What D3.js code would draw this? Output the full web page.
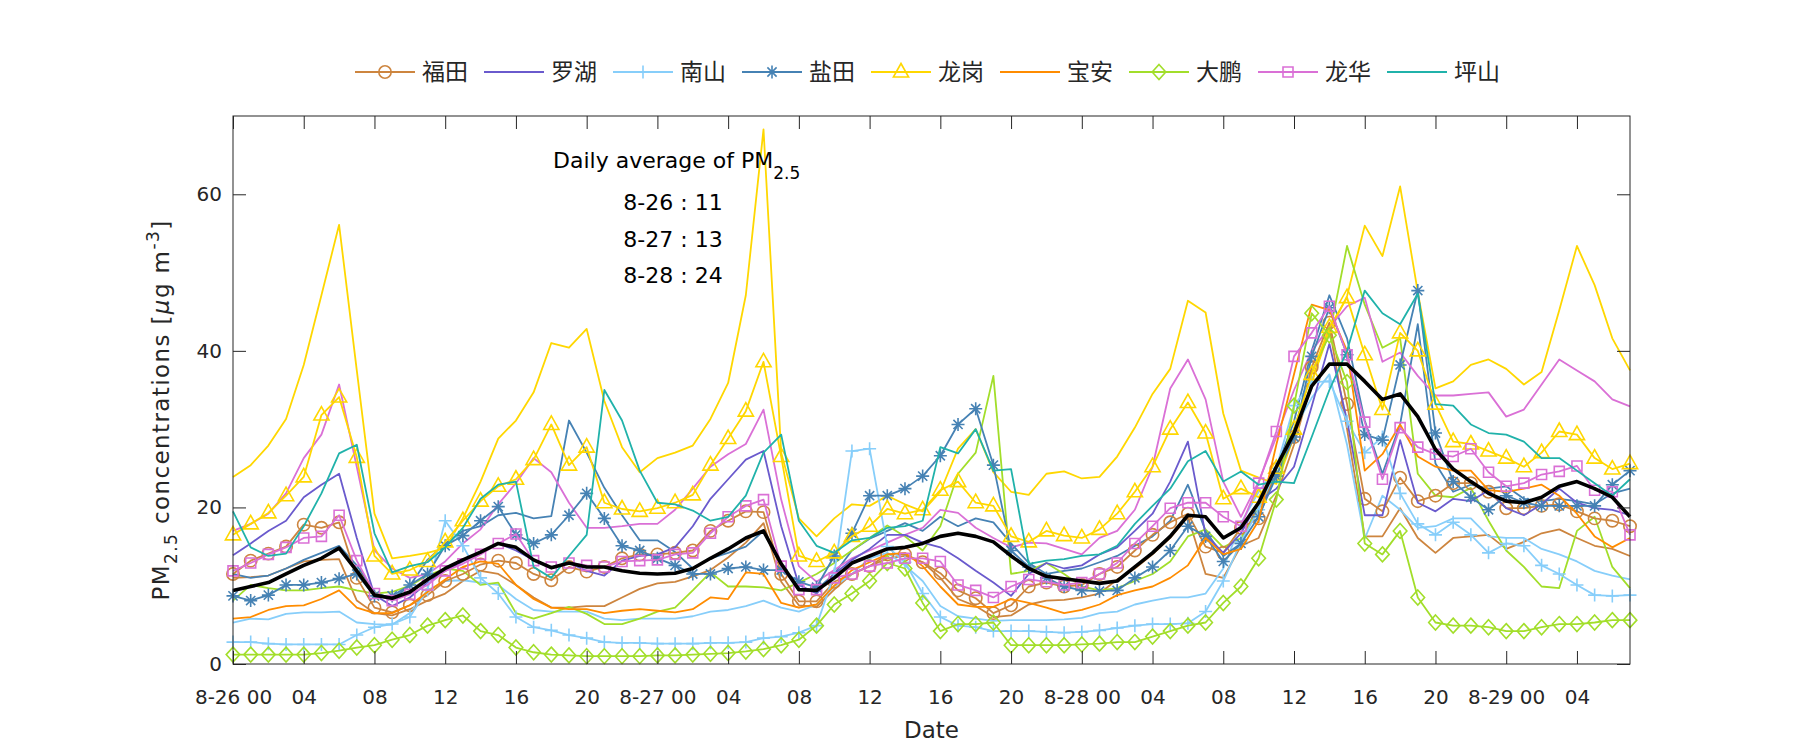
<!DOCTYPE html>
<html><head><meta charset="utf-8">
<script src="https://cdn.jsdelivr.net/npm/d3@7"></script>
<style>
body{margin:0;background:#fff;}
svg{display:block;font-family:"DejaVu Sans",sans-serif;}
</style></head><body>
<svg id="chart" width="1800" height="750"></svg>
<script>
// ---------- data ----------
const hours = d3.range(0, 80);
const tickHours = [0,4,8,12,16,20,24,28,32,36,40,44,48,52,56,60,64,68,72,76];
const tickLabels = ["8-26 00","04","08","12","16","20","8-27 00","04","08","12","16","20","8-28 00","04","08","12","16","20","8-29 00","04"];
const yTicks = [0,20,40,60];
const stationNames = ["福田","罗湖","南山","盐田","龙岗","宝安","大鹏","龙华","坪山"];
const stationColors = ["#CD853F","#6A5ACD","#87CEFA","#4682B4","#FFD700","#FF8C00","#A2DE2A","#DA70D6","#20B2AA"];
const stationMarkers = ["circle","none","plus","star","triangle","none","diamond","square","none"];
const dailyAverages = ["8-26 : 11","8-27 : 13","8-28 : 24"];

const futian1 = [11.5,13.2,14.1,15.0,17.8,17.4,18.1,11.0,7.2,6.6,
 7.5,8.8,10.6,11.5,12.7,13.2,12.9,11.5,10.7,12.4,
 11.8,12.4,13.5,14.0,14.0,14.2,14.5,17.0,18.3,19.5,
 19.4,11.5,8.0,8.0,10.5,11.5,12.5,14.0,14.0,13.0,
 11.6,9.4,8.4,6.5,7.5,9.9,10.4,9.9,10.1,11.5,
 12.4,14.5,16.5,18.1,19.2,15.0,14.2,17.4,18.6,24.9,
 29.0,37.9,43.6,33.2,21.1,19.5,23.8,20.8,21.5,23.1,
 23.1,22.0,19.9,19.9,20.2,20.4,19.5,18.6,18.3,17.6];
const futian2 = [11.0,11.1,11.3,12.2,13.1,13.3,13.4,8.1,6.5,6.2,
 7.0,8.1,9.0,10.6,11.9,11.5,10.1,8.5,7.2,7.2,
 7.4,7.4,8.5,9.6,10.3,10.5,11.2,12.0,13.6,15.5,
 18.0,10.5,7.5,7.3,9.5,11.5,12.5,13.5,13.8,13.0,
 11.0,8.3,7.4,6.0,6.2,7.6,8.1,8.2,8.5,9.0,
 10.8,12.2,14.0,16.1,18.8,11.5,11.0,15.1,16.1,21.5,
 28.0,36.0,43.0,30.0,16.3,16.3,19.9,16.1,14.2,16.1,
 16.3,16.5,14.7,15.6,16.7,17.2,16.1,15.1,14.7,13.8];
const luohu = [13.9,15.4,17.0,18.3,21.3,22.9,24.3,16.1,8.8,7.4,
 8.5,10.4,11.9,13.1,14.3,15.4,14.5,13.3,12.2,12.9,
 11.9,11.3,13.2,13.8,14.0,14.9,17.6,21.1,23.6,26.1,
 27.2,17.6,10.1,9.0,11.5,13.3,14.7,16.5,16.5,15.5,
 14.9,13.5,11.9,10.4,8.7,11.5,12.9,12.2,12.6,14.0,
 14.9,17.0,19.2,23.3,28.4,16.5,14.2,16.7,20.8,22.4,
 25.2,32.9,40.9,31.1,19.0,19.0,28.6,20.6,19.5,21.1,
 20.8,22.2,19.9,19.0,20.4,22.4,20.6,19.9,19.7,19.0];
const nanshan1 = [2.8,2.8,2.6,2.5,2.5,2.5,2.5,3.7,4.7,5.1,
 6.0,9.5,18.3,15.1,11.0,9.0,6.0,4.7,4.3,3.7,
 3.3,2.8,2.7,2.7,2.6,2.6,2.6,2.7,2.7,2.8,
 3.3,3.5,4.0,4.9,11.5,27.2,27.5,15.0,13.0,9.0,
 6.0,4.9,4.7,4.2,4.2,4.2,4.1,4.0,4.1,4.3,
 4.6,4.9,5.1,5.1,5.2,6.7,10.6,15.6,19.7,25.0,
 33.0,36.0,36.1,31.0,27.0,29.0,21.8,17.9,16.5,18.1,
 16.5,14.2,15.4,15.1,12.6,11.5,10.1,8.8,8.7,8.8];
const nanshan2 = [5.3,5.8,5.7,6.4,6.6,6.6,6.7,5.3,5.1,5.0,
 6.5,9.4,10.6,10.7,10.4,10.1,8.3,6.9,6.7,6.7,
 6.7,5.8,5.6,5.8,5.8,5.8,6.1,6.7,6.9,7.4,
 8.1,7.2,6.7,7.6,9.9,11.5,13.5,14.2,12.6,10.6,
 7.4,6.1,5.8,5.5,5.6,5.6,5.6,5.7,5.9,6.5,
 6.7,7.6,8.1,8.5,8.5,9.0,12.2,18.0,22.0,25.0,
 30.0,34.0,37.0,28.0,16.0,21.5,19.7,17.4,17.6,18.6,
 18.6,16.3,16.1,16.1,14.7,14.0,13.1,11.9,11.3,10.8];
const yantian1 = [8.7,8.1,8.8,10.1,10.1,10.4,10.9,11.5,8.7,8.7,
 10.1,11.5,15.1,16.4,18.3,20.1,16.5,15.4,16.5,19.0,
 21.8,18.6,15.1,14.5,13.5,12.6,11.5,11.5,12.2,12.4,
 12.0,12.0,10.5,9.8,13.8,16.7,21.5,21.5,22.4,24.0,
 26.6,30.6,32.6,25.4,14.5,12.4,11.0,9.9,9.4,9.3,
 9.4,11.0,12.4,14.5,17.6,16.3,13.1,15.4,18.8,24.0,
 29.0,39.3,45.5,39.5,29.3,28.6,38.2,47.7,29.5,23.3,
 21.3,19.7,21.5,20.6,20.2,20.2,20.2,20.2,22.9,24.7];
const yantian2 = [11.5,11.0,11.3,12.2,13.3,14.2,15.1,12.6,9.2,8.3,
 10.0,13.3,15.4,17.0,17.6,19.0,19.3,18.6,18.9,31.1,
 27.0,22.5,19.0,15.8,15.8,14.3,12.2,13.5,14.2,15.0,
 17.0,12.5,9.5,9.5,11.5,14.5,16.0,17.0,18.0,17.0,
 18.8,17.6,18.6,18.1,15.4,12.9,11.5,11.9,12.2,13.0,
 13.8,15.1,16.3,18.3,22.9,17.0,13.8,15.4,20.6,25.0,
 31.0,40.0,47.1,41.6,31.1,24.3,30.6,43.4,25.6,22.0,
 22.9,22.4,22.7,21.1,20.8,21.1,20.8,20.4,21.8,22.4];
const longgang1 = [16.5,17.9,19.3,21.5,23.9,31.8,34.1,26.4,13.8,11.5,
 12.0,13.1,15.6,18.3,20.8,22.7,23.6,26.1,30.6,25.4,
 27.7,20.6,19.8,19.5,19.9,20.6,21.6,25.4,28.8,32.3,
 38.6,26.5,13.8,13.1,14.2,16.3,17.6,19.8,19.2,19.7,
 22.2,23.3,20.6,20.2,16.3,15.6,17.0,16.4,16.1,17.2,
 19.2,22.0,25.2,30.0,33.4,29.5,21.1,22.4,21.3,25.0,
 30.0,37.0,43.0,46.8,39.5,32.5,42.3,40.0,33.2,28.4,
 28.1,27.2,26.3,25.2,27.0,29.7,29.3,26.3,24.9,25.6];
const longgang2 = [23.9,25.4,27.9,31.3,38.2,47.1,56.1,37.5,19.2,13.5,
 13.8,14.2,14.8,18.6,23.3,28.8,31.1,34.7,41.0,40.4,
 42.8,33.6,27.7,24.5,26.3,27.0,27.9,31.3,35.9,47.1,
 68.3,27.0,18.6,16.3,18.6,20.4,20.2,21.5,20.4,19.5,
 22.0,27.5,30.0,24.5,22.0,21.6,24.3,24.6,23.7,23.9,
 26.5,30.2,34.5,37.7,46.4,44.9,32.0,24.7,23.8,23.0,
 29.0,36.0,42.5,47.0,56.0,52.1,61.0,47.5,35.2,36.1,
 38.2,38.9,37.7,35.7,37.3,45.2,53.4,48.4,41.6,37.5];
const baoan = [5.8,6.0,6.9,7.4,7.5,8.3,9.4,7.2,6.5,6.5,
 7.5,9.2,10.8,12.4,13.1,12.8,10.1,8.3,7.2,7.0,
 7.0,6.5,6.8,7.0,6.8,6.6,7.0,8.5,8.3,11.7,
 11.5,7.8,7.2,7.6,10.0,12.0,13.0,14.0,14.2,12.5,
 9.9,7.6,7.3,7.3,8.3,7.8,7.2,6.5,6.9,7.6,
 8.8,9.4,9.9,11.0,12.6,16.1,14.0,14.7,18.3,28.0,
 37.0,45.9,45.2,40.0,24.7,26.8,30.6,26.5,25.2,24.7,
 24.7,22.2,22.0,22.4,22.9,21.5,19.2,16.3,14.9,16.1];
const dapeng1 = [1.2,1.2,1.2,1.2,1.2,1.4,1.7,2.1,2.4,3.1,
 3.7,4.9,5.6,6.2,4.2,3.7,2.1,1.5,1.2,1.1,
 1.0,1.0,1.0,1.0,1.1,1.1,1.2,1.3,1.4,1.6,
 1.9,2.4,3.1,4.9,7.6,9.0,10.6,12.9,12.2,7.8,
 4.2,5.1,5.1,5.3,2.4,2.4,2.4,2.4,2.5,2.6,
 2.8,2.8,3.5,4.2,4.9,5.3,7.8,9.9,13.5,21.0,
 33.0,44.8,42.0,36.0,15.4,14.0,17.0,8.5,5.3,4.9,
 4.9,4.7,4.2,4.2,4.7,5.1,5.1,5.3,5.6,5.6];
const dapeng2 = [8.1,10.1,9.7,9.4,9.4,9.7,9.9,9.4,9.0,9.2,
 10.0,11.3,12.2,11.9,10.1,10.4,6.5,5.8,6.5,7.3,
 6.4,5.1,5.1,5.8,6.7,7.2,9.4,11.7,9.9,9.9,
 9.8,9.4,10.4,11.5,12.9,14.5,16.1,17.7,16.3,14.5,
 17.6,24.3,27.0,36.8,11.5,11.9,12.9,11.5,9.9,9.4,
 9.7,10.6,11.5,13.1,16.3,17.2,14.9,16.1,19.9,24.0,
 30.0,37.3,42.0,53.4,45.9,40.4,41.6,24.3,21.5,21.3,
 22.5,18.3,14.5,12.4,9.9,9.7,17.0,18.8,12.4,9.7];
const longhua1 = [11.9,12.9,14.0,14.9,16.1,16.3,19.0,13.2,9.0,8.1,
 8.9,10.1,11.9,12.8,14.0,15.4,16.6,13.2,12.4,12.9,
 12.6,12.4,13.1,13.2,13.3,14.0,14.2,16.7,18.8,20.2,
 21.0,12.5,9.5,9.5,11.0,11.5,12.5,12.9,13.5,13.5,
 13.1,10.1,9.4,8.5,9.9,10.8,10.5,10.1,10.4,11.5,
 12.9,15.4,17.6,19.9,20.6,20.6,18.8,17.6,23.1,29.7,
 39.3,42.3,45.7,39.5,30.9,23.6,30.2,27.7,26.8,26.5,
 27.5,24.5,22.7,23.1,24.2,24.6,25.3,22.2,22.0,16.5];
const longhua2 = [17.0,17.9,19.2,21.8,26.3,29.3,35.7,25.2,14.5,12.2,
 11.0,11.5,13.1,15.4,17.2,20.4,23.1,26.3,24.5,20.6,
 17.4,17.4,17.6,17.9,17.9,19.7,22.4,25.2,26.8,28.1,
 32.5,21.0,12.5,10.5,12.0,13.5,14.5,15.5,16.5,17.4,
 19.7,19.3,17.4,16.1,14.9,15.5,15.4,14.7,14.0,16.1,
 17.0,19.7,25.2,35.2,38.9,33.8,23.3,18.8,23.3,29.0,
 35.0,40.0,43.0,45.7,46.8,38.6,39.8,36.8,34.3,34.3,
 34.5,34.7,31.6,32.5,35.7,38.9,37.5,36.1,33.8,32.9];
const pingshan = [19.5,14.9,13.8,14.1,17.6,21.8,26.9,28.0,16.7,11.7,
 12.5,13.0,14.9,17.4,21.1,22.9,23.3,12.4,11.0,13.8,
 16.5,35.0,31.1,24.7,20.6,20.4,19.6,18.3,18.8,21.5,
 27.0,29.3,18.3,15.1,14.2,15.8,16.1,17.4,17.6,18.3,
 27.7,26.9,30.0,24.7,24.9,12.8,13.2,13.4,13.8,14.0,
 15.1,17.9,20.2,22.4,25.9,27.2,23.3,24.6,22.9,23.3,
 23.1,29.0,35.0,40.0,47.7,44.8,43.4,47.3,33.2,33.0,
 30.6,29.5,29.3,28.4,26.3,26.3,24.7,23.1,21.5,23.6];
const average = [9.4,9.9,10.4,11.5,12.6,13.5,14.8,11.9,8.8,8.4,
 9.2,10.8,12.2,13.3,14.3,15.4,14.9,13.3,12.3,12.9,
 12.4,12.4,11.9,11.6,11.5,11.6,12.2,13.5,14.7,16.1,
 17.0,12.8,9.5,9.4,11.0,12.9,13.8,14.7,14.9,15.4,
 16.3,16.7,16.3,15.6,13.8,12.2,11.2,10.9,10.6,10.3,
 10.6,12.4,14.2,16.3,19.0,18.8,16.1,17.4,20.6,25.2,
 29.5,35.5,38.3,38.3,36.1,33.8,34.5,31.6,27.4,24.9,
 23.3,21.8,20.8,20.6,21.3,22.7,23.3,22.4,21.3,18.8];

// series: [values, station index, marker shown?]
const series = [
  [futian2,0,false],[nanshan2,2,false],[yantian2,3,false],[longgang2,4,false],
  [dapeng2,6,false],[longhua2,7,false],
  [futian1,0,true],[luohu,1,true],[nanshan1,2,true],[yantian1,3,true],[longgang1,4,true],
  [baoan,5,true],[dapeng1,6,true],[longhua1,7,true],[pingshan,8,true]
];

// ---------- layout ----------
const svg = d3.select("#chart");
const L = 233, R = 1630, T = 116, B = 664;
const x = d3.scaleLinear().domain([0,79]).range([L,R]);
const y = d3.scaleLinear().domain([0,70]).range([B,T]);
const axisColor = "#262626";

function markerPath(type){
  switch(type){
    case "circle": return d3.symbol(d3.symbolCircle, 120)();
    case "triangle": return "M0,-8.5L7.6,5L-7.6,5Z";
    case "square": return "M-5,-5H5V5H-5Z";
    case "diamond": return "M0,-7.5L6.8,0L0,7.5L-6.8,0Z";
    case "plus": return "M-6.5,0H6.5M0,-6.5V6.5";
    case "star": return "M-6.5,0H6.5M0,-6.5V6.5M-4.6,-4.6L4.6,4.6M-4.6,4.6L4.6,-4.6";
  }
  return null;
}

const line = d3.line().x((d,i)=>x(hours[i])).y(d=>y(d));
const plot = svg.append("g");

series.forEach(([vals, si, showMarker])=>{
  const col = stationColors[si];
  plot.append("path").attr("d", line(vals)).attr("fill","none")
    .attr("stroke", col).attr("stroke-width",1.8).attr("stroke-linejoin","round");
  const m = stationMarkers[si];
  if(showMarker && m !== "none"){
    plot.append("g").selectAll("path").data(vals).join("path")
      .attr("d", markerPath(m))
      .attr("transform",(d,i)=>`translate(${x(hours[i])},${y(d)})`)
      .attr("fill","none").attr("stroke",col).attr("stroke-width",1.6);
  }
});
plot.append("path").attr("d", line(average)).attr("fill","none")
  .attr("stroke","#000").attr("stroke-width",3.6).attr("stroke-linejoin","round");

// ---------- axes ----------
function styleAxis(g){
  g.select(".domain").remove();
  g.selectAll(".tick line").attr("stroke",axisColor).attr("stroke-width",1);
  g.selectAll(".tick text").attr("fill",axisColor).attr("font-size",20)
    .attr("font-family",'"DejaVu Sans",sans-serif');
  g.attr("font-family",null).attr("font-size",null);
}
svg.append("g").attr("transform",`translate(0,${B})`)
  .call(d3.axisBottom(x).tickValues(tickHours).tickFormat((d,i)=>tickLabels[i])
    .tickSizeInner(-13).tickSizeOuter(0).tickPadding(26)).call(styleAxis);
svg.append("g").attr("transform",`translate(0,${T})`)
  .call(d3.axisTop(x).tickValues(tickHours).tickFormat(()=>"")
    .tickSizeInner(-13).tickSizeOuter(0)).call(styleAxis);
svg.append("g").attr("transform",`translate(${L},0)`)
  .call(d3.axisLeft(y).tickValues(yTicks).tickSizeInner(-13).tickSizeOuter(0).tickPadding(11))
  .call(styleAxis);
svg.append("g").attr("transform",`translate(${R},0)`)
  .call(d3.axisRight(y).tickValues(yTicks).tickFormat(()=>"").tickSizeInner(-13).tickSizeOuter(0))
  .call(styleAxis);
svg.append("rect").attr("x",L).attr("y",T).attr("width",R-L).attr("height",B-T)
  .attr("fill","none").attr("stroke",axisColor).attr("stroke-width",1);

// axis titles
svg.append("text").attr("x",(L+R)/2).attr("y",738).attr("text-anchor","middle")
  .attr("font-size",23).attr("fill",axisColor).text("Date");
const yl = svg.append("text").attr("transform",`translate(169,410) rotate(-90)`)
  .attr("text-anchor","middle").attr("font-size",23).attr("letter-spacing",1.4).attr("fill",axisColor);
yl.append("tspan").text("PM");
yl.append("tspan").attr("font-size",17).attr("dy",8).text("2.5");
yl.append("tspan").attr("dy",-8).text(" concentrations [");
yl.append("tspan").attr("font-style","italic").text("μ");
yl.append("tspan").text("g m");
yl.append("tspan").attr("font-size",17).attr("dy",-10).text("-3");
yl.append("tspan").attr("dy",10).text("]");

// annotation
const ann = svg.append("g").attr("fill","#000").attr("font-size",22);
const hdr = ann.append("text").attr("x",553).attr("y",168);
hdr.append("tspan").text("Daily average of PM");
hdr.append("tspan").attr("font-size",17).attr("dy",11).text("2.5");
ann.selectAll("text.val").data(dailyAverages).join("text").attr("class","val")
  .attr("x",673).attr("y",(d,i)=>210+i*36.5).attr("text-anchor","middle").text(d=>d);

// legend
const lg = svg.append("g");
stationNames.forEach((name,i)=>{
  const g = lg.append("g").attr("transform",`translate(${355+i*129},72)`);
  g.append("line").attr("x1",0).attr("x2",60).attr("y1",0).attr("y2",0)
    .attr("stroke",stationColors[i]).attr("stroke-width",1.8);
  const mp = markerPath(stationMarkers[i]);
  if(mp) g.append("path").attr("d",mp).attr("transform","translate(30,0)")
    .attr("fill","none").attr("stroke",stationColors[i]).attr("stroke-width",1.6);
  g.append("text").attr("x",67).attr("y",0).attr("dy","0.36em")
    .attr("font-family",'"Noto Sans CJK SC",sans-serif').attr("font-size",23)
    .attr("fill",axisColor).text(name);
});
</script>
</body></html>
